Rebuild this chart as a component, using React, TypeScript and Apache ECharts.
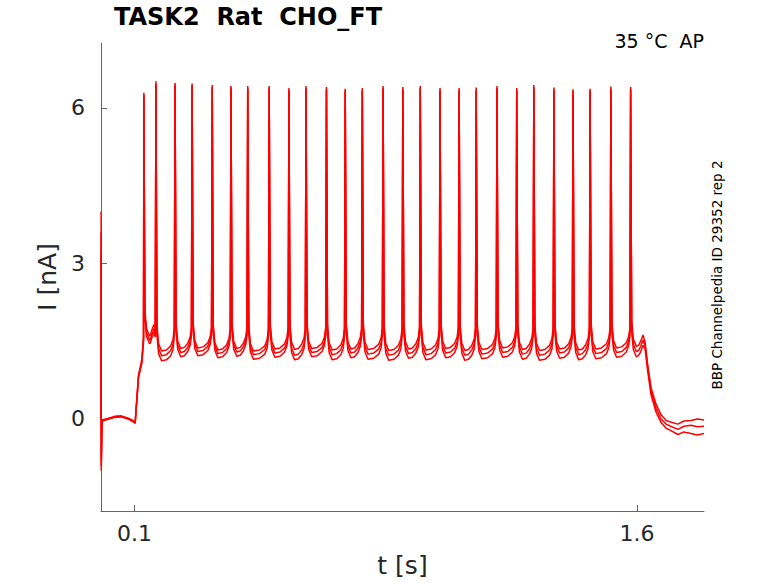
import React, { useEffect, useRef } from "react";
import * as echarts from "echarts";

// ---- texts ----
const titleText = "TASK2  Rat  CHO_FT";
const condText = "35 °C  AP";
const sideText = "BBP Channelpedia ID 29352 rep 2";
const xName = "t [s]";
const yName = "I [nA]";
const xTicks = [0.1, 1.6];
const yTicks = [0, 3, 6];

// ---- spike times (s) ----
const spikeTimes = [
  0.128, 0.164, 0.221, 0.272, 0.332, 0.388, 0.438, 0.502, 0.561, 0.612, 0.673, 0.729, 0.78, 0.842,
  0.901, 0.953, 1.012, 1.069, 1.12, 1.182, 1.241, 1.292, 1.352, 1.409, 1.46, 1.522, 1.581,
];

// ---- spike peaks (nA), three repetitions ----
const peaksA = [6.29, 6.51, 6.48, 6.47, 6.44, 6.42, 6.42, 6.42, 6.38, 6.42, 6.4, 6.37, 6.38, 6.42, 6.4, 6.42, 6.38, 6.38, 6.39, 6.42, 6.38, 6.44, 6.39, 6.36, 6.37, 6.41, 6.4];
const peaksB = [6.25, 6.47, 6.45, 6.44, 6.4, 6.39, 6.38, 6.39, 6.35, 6.38, 6.37, 6.34, 6.35, 6.38, 6.37, 6.38, 6.35, 6.35, 6.36, 6.38, 6.35, 6.4, 6.36, 6.33, 6.34, 6.37, 6.37];
const peaksC = [6.2, 6.43, 6.41, 6.4, 6.37, 6.35, 6.35, 6.35, 6.31, 6.35, 6.33, 6.3, 6.31, 6.35, 6.33, 6.35, 6.31, 6.31, 6.32, 6.35, 6.31, 6.37, 6.32, 6.29, 6.3, 6.34, 6.33];

// ---- inter-spike troughs (nA), last entry = after the last spike ----
const troughA = [1.6, 1.31, 1.36, 1.37, 1.33, 1.36, 1.31, 1.35, 1.34, 1.36, 1.33, 1.35, 1.34, 1.32, 1.35, 1.33, 1.36, 1.32, 1.34, 1.37, 1.34, 1.32, 1.35, 1.33, 1.35, 1.37, 1.4];
const troughB = [1.52, 1.22, 1.28, 1.3, 1.26, 1.29, 1.24, 1.27, 1.23, 1.28, 1.24, 1.27, 1.25, 1.23, 1.26, 1.24, 1.27, 1.23, 1.25, 1.28, 1.25, 1.23, 1.27, 1.24, 1.26, 1.28, 1.3];
const troughC = [1.45, 1.12, 1.2, 1.22, 1.18, 1.21, 1.15, 1.19, 1.14, 1.2, 1.14, 1.18, 1.15, 1.13, 1.17, 1.14, 1.18, 1.13, 1.16, 1.19, 1.15, 1.13, 1.17, 1.14, 1.16, 1.19, 1.2];

// ---- values just before each spike (nA) ----
const preA = [1.72, 1.78, 1.76, 1.77, 1.75, 1.78, 1.76, 1.77, 1.75, 1.78, 1.76, 1.75, 1.77, 1.76, 1.78, 1.75, 1.77, 1.76, 1.75, 1.78, 1.76, 1.77, 1.75, 1.76, 1.78, 1.76];
const preB = [1.65, 1.7, 1.68, 1.69, 1.67, 1.7, 1.68, 1.69, 1.67, 1.7, 1.68, 1.67, 1.69, 1.68, 1.7, 1.67, 1.69, 1.68, 1.67, 1.7, 1.68, 1.69, 1.67, 1.68, 1.7, 1.68];
const preC = [1.58, 1.62, 1.6, 1.61, 1.59, 1.62, 1.6, 1.61, 1.59, 1.62, 1.6, 1.59, 1.61, 1.6, 1.62, 1.59, 1.61, 1.6, 1.59, 1.62, 1.6, 1.61, 1.59, 1.6, 1.62, 1.6];

// ---- holding period before the step ----
const baseTimes = [0, 0.0004, 0.0008, 0.003, 0.02, 0.04, 0.06, 0.08, 0.095, 0.102];
const baseA = [0, 4.0, -1.0, -0.02, 0.01, 0.05, 0.06, 0.02, -0.03, -0.07];
const baseB = [0, 3.6, -0.9, -0.03, 0.0, 0.04, 0.05, 0.01, -0.04, -0.08];
const baseC = [0, 3.2, -0.8, -0.04, -0.01, 0.03, 0.04, 0.0, -0.05, -0.08];

// ---- rise at step onset ----
const riseTimes = [0.112, 0.122, 0.127];
const riseA = [0.85, 1.15, 1.6];
const riseB = [0.82, 1.1, 1.55];
const riseC = [0.8, 1.08, 1.5];

// ---- decay after the step ----
const decayTimes = [1.624, 1.632, 1.642, 1.657, 1.672, 1.687, 1.7, 1.722, 1.74, 1.761, 1.78, 1.8];
const decayA = [1.48, 1.05, 0.6, 0.28, 0.08, -0.03, -0.06, -0.1, -0.04, -0.03, 0.0, -0.02];
const decayB = [1.42, 0.98, 0.53, 0.2, 0.0, -0.1, -0.14, -0.2, -0.14, -0.12, -0.15, -0.14];
const decayC = [1.36, 0.92, 0.46, 0.13, -0.07, -0.18, -0.22, -0.3, -0.25, -0.28, -0.31, -0.28];

// ---- interspike waveform template (offsets from trough) ----
const postDt = [0.003, 0.008, 0.017];
const postDv = [0.5, 0.14, 0];
const midDv = 0.02;
const preDt = [0.013, 0.006];
const preDv = [0.1, 0.22];

function buildTrace(
  base: number[],
  rise: number[],
  peaks: number[],
  troughs: number[],
  pre: number[],
  decay: number[]
): number[][] {
  const pts: number[][] = [];
  baseTimes.forEach((t, i) => pts.push([t, base[i]]));
  riseTimes.forEach((t, i) => pts.push([t, rise[i]]));
  for (let i = 0; i < spikeTimes.length; i++) {
    const t0 = spikeTimes[i];
    const last = i + 1 >= spikeTimes.length;
    const t1 = last ? decayTimes[0] : spikeTimes[i + 1];
    const m = troughs[i];
    pts.push([t0, peaks[i]]);
    postDt.forEach((d, k) => pts.push([t0 + d, m + postDv[k]]));
    pts.push([t0 + (t1 - t0) * 0.55, m + midDv]);
    preDt.forEach((d, k) => pts.push([t1 - d, m + preDv[k]]));
    if (!last) pts.push([t1 - 0.002, pre[i]]);
  }
  decayTimes.forEach((t, k) => pts.push([t, decay[k]]));
  return pts;
}

const FONT = "DejaVu Sans";

export default function App() {
  const ref = useRef<HTMLDivElement>(null);
  useEffect(() => {
    if (!ref.current) return;
    const chart = echarts.init(ref.current, null, { renderer: "svg" });
    const traces = [
      buildTrace(baseC, riseC, peaksC, troughC, preC, decayC),
      buildTrace(baseB, riseB, peaksB, troughB, preB, decayB),
      buildTrace(baseA, riseA, peaksA, troughA, preA, decayA),
    ];
    chart.setOption({
      animation: false,
      backgroundColor: "#ffffff",
      grid: { left: 101, right: 74, top: 43, bottom: 71, containLabel: false },
      xAxis: {
        type: "value",
        min: 0,
        max: 1.8,
        name: xName,
        nameLocation: "middle",
        nameGap: 42,
        nameTextStyle: { fontFamily: FONT, fontSize: 25, color: "#262626" },
        axisLine: { show: true, onZero: false, lineStyle: { color: "#666666", width: 1 } },
        axisTick: { show: true, inside: true, length: 6, customValues: xTicks, lineStyle: { color: "#666666" } },
        axisLabel: {
          show: true,
          customValues: xTicks,
          margin: 11,
          fontFamily: FONT,
          fontSize: 22,
          color: "#262626",
          formatter: (v: number) => String(v),
        },
        splitLine: { show: false },
      },
      yAxis: {
        type: "value",
        min: -1.775,
        max: 7.25,
        name: yName,
        nameLocation: "middle",
        nameRotate: 90,
        nameGap: 35,
        nameTextStyle: { fontFamily: FONT, fontSize: 25, color: "#262626" },
        axisLine: { show: true, onZero: false, lineStyle: { color: "#666666", width: 1 } },
        axisTick: { show: true, inside: true, length: 6, customValues: yTicks, lineStyle: { color: "#666666" } },
        axisLabel: {
          show: true,
          customValues: yTicks,
          margin: 16,
          fontFamily: FONT,
          fontSize: 22,
          color: "#262626",
          formatter: (v: number) => String(v),
        },
        splitLine: { show: false },
      },
      graphic: [
        {
          type: "text",
          x: 114,
          y: 17,
          style: {
            text: titleText,
            fontFamily: FONT,
            fontSize: 24,
            fontWeight: "bold",
            fill: "#000000",
            textAlign: "left",
            textVerticalAlign: "middle",
          },
        },
        {
          type: "text",
          x: 704,
          y: 40.5,
          style: {
            text: condText,
            fontFamily: FONT,
            fontSize: 19,
            fill: "#000000",
            textAlign: "right",
            textVerticalAlign: "middle",
          },
        },
        {
          type: "text",
          x: 717,
          y: 275,
          rotation: Math.PI / 2,
          style: {
            text: sideText,
            fontFamily: FONT,
            fontSize: 13.5,
            fill: "#000000",
            textAlign: "center",
            textVerticalAlign: "middle",
          },
        },
      ],
      series: traces.map((d) => ({
        type: "line",
        data: d,
        showSymbol: false,
        symbol: "none",
        clip: true,
        lineStyle: { color: "#ff0000", width: 1.5 },
        itemStyle: { color: "#ff0000" },
      })),
    });
    return () => chart.dispose();
  }, []);
  return (
    <div
      ref={ref}
      style={{ position: "absolute", left: 0, top: 0, width: 778, height: 583 }}
    />
  );
}
